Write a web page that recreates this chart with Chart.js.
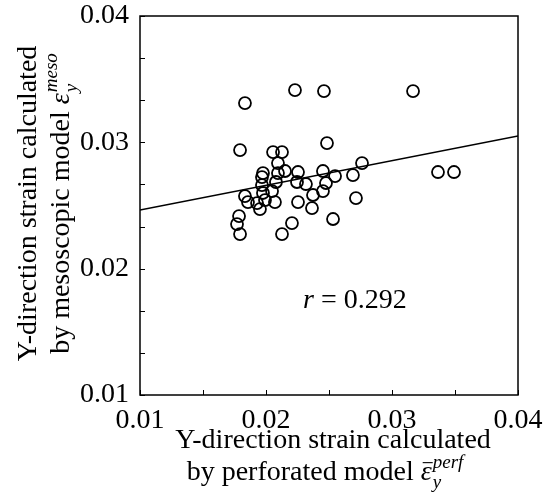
<!DOCTYPE html>
<html><head><meta charset="utf-8">
<script src="https://cdn.jsdelivr.net/npm/chart.js@4/dist/chart.umd.min.js"></script>
<style>html,body{margin:0;padding:0;background:#fff}canvas{display:block}</style>
</head><body>
<canvas id="c" width="544" height="495"></canvas>
<script>
// Y-direction strain from perforated model (x) and mesoscopic model (y)
const perfStrain = [0.01833,0.02230,0.02460,0.03167,0.01794,0.02056,0.02127,0.02095,0.02484,0.02762,
  0.03365,0.03492,0.01976,0.01968,0.02151,0.02095,0.02254,0.02452,0.02548,0.02690,
  0.02079,0.02246,0.02317,0.02476,0.01968,0.02048,0.01976,0.01833,0.01857,0.01929,
  0.01992,0.02071,0.01952,0.02254,0.02373,0.02365,0.02452,0.02714,0.01786,0.01770,
  0.01794,0.02127,0.02206,0.02532];
const mesoStrain = [0.03311,0.03414,0.03406,0.03406,0.02939,0.02923,0.02923,0.02836,0.02994,0.02836,
  0.02765,0.02765,0.02757,0.02725,0.02773,0.02757,0.02765,0.02773,0.02733,0.02741,
  0.02686,0.02686,0.02670,0.02678,0.02662,0.02614,0.02599,0.02575,0.02527,0.02519,
  0.02543,0.02527,0.02472,0.02527,0.02583,0.02480,0.02614,0.02559,0.02416,0.02353,
  0.02274,0.02274,0.02361,0.02393];
// linear fit line
const fitX = [0.01, 0.04];
const fitY = [0.02464, 0.03050];
// ticks
const xTickValues = [0.01,0.015,0.02,0.025,0.03,0.035,0.04];
const yTickValues = [0.01,0.013333,0.016667,0.02,0.023333,0.026667,0.03,0.033333,0.036667,0.04];
const labelValues = [0.01,0.02,0.03,0.04];
const tickLabels = ['0.01','0.02','0.03','0.04'];
const rLabel = ['r', ' = 0.292'];
const rPos = [0.02294, 0.01688];

const FAMILY = '"Liberation Serif", "Times New Roman", serif';
function labelFor(v){
  for (let i=0;i<labelValues.length;i++) if (Math.abs(v-labelValues[i])<1e-6) return tickLabels[i];
  return '';
}

function drawLine2(ctx, cx, baseY, lead, subT, supT, bar, size){
  const fBase = size + 'px ' + FAMILY;
  const fIt = 'italic ' + size + 'px ' + FAMILY;
  const fSmall = 'italic ' + Math.round(size*0.68) + 'px ' + FAMILY;
  ctx.font = fBase; const w0 = ctx.measureText(lead).width;
  ctx.font = fIt; const we = ctx.measureText('ε').width;
  ctx.font = fSmall; const ws = ctx.measureText(subT).width; const wp = ctx.measureText(supT).width;
  const total = w0 + we + 1 + Math.max(ws, wp);
  let x = cx - total/2;
  ctx.textAlign = 'left'; ctx.textBaseline = 'alphabetic';
  ctx.font = fBase; ctx.fillText(lead, x, baseY); x += w0;
  ctx.font = fIt; ctx.fillText('ε', x, baseY);
  if (bar){
    ctx.beginPath(); ctx.lineWidth = 1.1;
    ctx.moveTo(x+2, baseY - size*0.62); ctx.lineTo(x+we+1, baseY - size*0.62); ctx.stroke();
  }
  x += we + 1;
  ctx.font = fSmall;
  ctx.fillText(supT, x, baseY - size*0.42);
  ctx.fillText(subT, x, baseY + size*0.27);
}

const decor = {
  id: 'decor',
  afterDraw(chart){
    const ctx = chart.ctx, a = chart.chartArea;
    const xs = chart.scales.x, ys = chart.scales.y;
    ctx.save();
    ctx.strokeStyle = '#000'; ctx.fillStyle = '#000';
    ctx.lineWidth = 1.5;
    ctx.strokeRect(a.left, a.top, a.right - a.left, a.bottom - a.top);
    ctx.lineWidth = 1;
    xTickValues.forEach(v => {
      const p = Math.round(xs.getPixelForValue(v)) + 0.5;
      ctx.beginPath(); ctx.moveTo(p, a.bottom); ctx.lineTo(p, a.bottom - 5); ctx.stroke();
    });
    yTickValues.forEach(v => {
      const p = Math.round(ys.getPixelForValue(v)) + 0.5;
      ctx.beginPath(); ctx.moveTo(a.left, p); ctx.lineTo(a.left + 5, p); ctx.stroke();
    });
    const size = 28;
    // x title
    const cx = (a.left + a.right)/2 + 4;
    ctx.font = size + 'px ' + FAMILY; ctx.textAlign = 'center'; ctx.textBaseline = 'alphabetic';
    ctx.fillText('Y-direction strain calculated', cx, 448);
    drawLine2(ctx, cx - 8, 480, 'by perforated model ', 'y', 'perf', true, size);
    // y title (rotated)
    const cy = (a.top + a.bottom)/2 - 2;
    ctx.save(); ctx.translate(36, cy); ctx.rotate(-Math.PI/2);
    ctx.font = size + 'px ' + FAMILY; ctx.textAlign = 'center';
    ctx.fillText('Y-direction strain calculated', 0, 0);
    ctx.restore();
    ctx.save(); ctx.translate(69, cy); ctx.rotate(-Math.PI/2);
    drawLine2(ctx, 0, 0, 'by mesoscopic model ', 'y', 'meso', false, size);
    ctx.restore();
    // r annotation
    const rx = xs.getPixelForValue(rPos[0]), ry = ys.getPixelForValue(rPos[1]);
    ctx.textAlign = 'left'; ctx.textBaseline = 'alphabetic';
    ctx.font = 'italic ' + size + 'px ' + FAMILY;
    ctx.fillText(rLabel[0], rx, ry);
    const wr = ctx.measureText(rLabel[0]).width;
    ctx.font = size + 'px ' + FAMILY;
    ctx.fillText(rLabel[1], rx + wr, ry);
    ctx.restore();
  }
};

new Chart(document.getElementById('c'), {
  type: 'scatter',
  data: {
    datasets: [
      {
        data: perfStrain.map((x,i) => ({x: x, y: mesoStrain[i]})),
        pointRadius: 6, pointHoverRadius: 6, pointBorderWidth: 1.8,
        borderColor: '#000', backgroundColor: 'rgba(0,0,0,0)', pointStyle: 'circle'
      },
      {
        type: 'line',
        data: fitX.map((x,i) => ({x: x, y: fitY[i]})),
        borderColor: '#000', borderWidth: 1.4, pointRadius: 0, fill: false, tension: 0
      }
    ]
  },
  options: {
    responsive: false, animation: false, devicePixelRatio: 1,
    layout: {padding: {left: 0, right: 26, top: 16, bottom: 0}},
    plugins: {legend: {display: false}, tooltip: {enabled: false}},
    events: [],
    scales: {
      x: {
        type: 'linear', min: 0.01, max: 0.04,
        afterBuildTicks: s => { s.ticks = xTickValues.map(v => ({value: v})); },
        afterFit: s => { s.height = 100; s.paddingLeft = 0; s.paddingRight = 0; },
        grid: {display: false, drawTicks: false}, border: {display: false},
        ticks: {autoSkip: false, maxRotation: 0, padding: 9, color: '#000',
          font: {family: FAMILY, size: 28}, callback: v => labelFor(v)}
      },
      y: {
        type: 'linear', min: 0.01, max: 0.04,
        afterBuildTicks: s => { s.ticks = yTickValues.map(v => ({value: v})); },
        afterFit: s => { s.width = 140; s.paddingTop = 0; s.paddingBottom = 0; },
        grid: {display: false, drawTicks: false}, border: {display: false},
        ticks: {autoSkip: false, padding: 11, color: '#000',
          font: {family: FAMILY, size: 28}, callback: v => labelFor(v)}
      }
    }
  },
  plugins: [decor]
});
</script>
</body></html>
